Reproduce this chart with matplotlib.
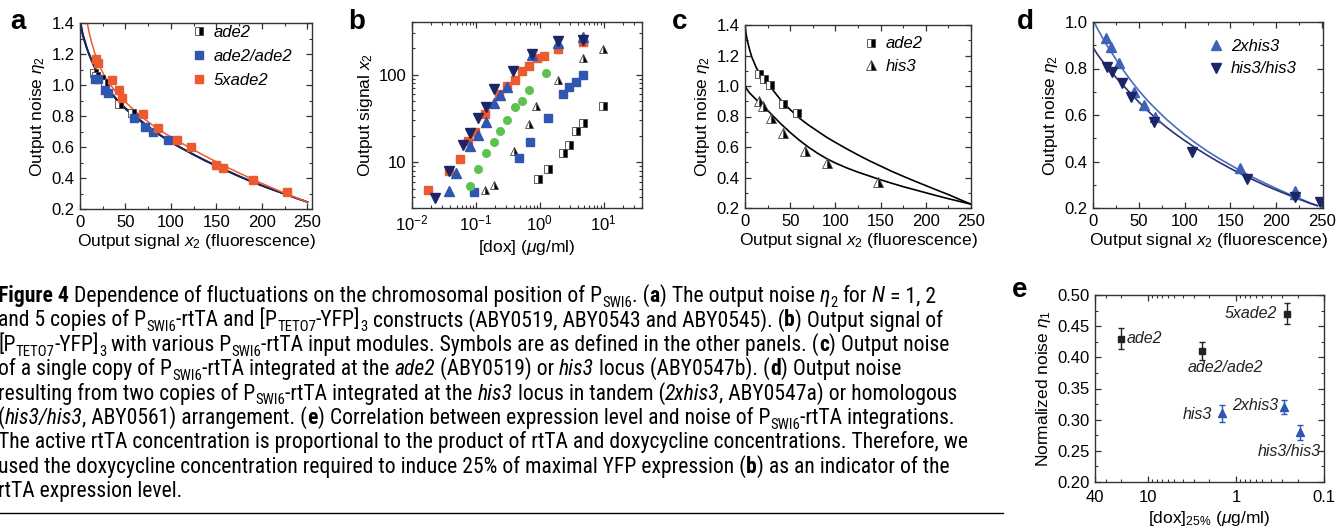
import re
import matplotlib
matplotlib.use('Agg')
import matplotlib.pyplot as plt
from matplotlib.lines import Line2D
from matplotlib.ticker import MultipleLocator, LogLocator, NullFormatter, FixedLocator, FixedFormatter

plt.rcParams['font.family'] = ['Liberation Sans', 'DejaVu Sans']
plt.rcParams['mathtext.fontset'] = 'custom'
plt.rcParams['mathtext.rm'] = 'Liberation Sans'
plt.rcParams['mathtext.it'] = 'Liberation Sans:italic'
plt.rcParams['mathtext.bf'] = 'Liberation Sans:bold'
plt.rcParams['font.size'] = 12
plt.rcParams['axes.labelsize'] = 12.5
plt.rcParams['axes.linewidth'] = 1.0
plt.rcParams['axes.edgecolor'] = '#333333'

W, H = 1337, 530
RED = '#ee5a2f'
BLUE = '#2f56b0'
NAVY = '#1c2566'
GREEN = '#5dc24f'
LBLUE = '#3d62b8'
CAP_FONT = ['Roboto Condensed', 'Open Sans Condensed', 'DejaVu Sans']

# ---- panel a: output noise vs output signal ----
a_ade2_x = [15, 18, 23, 28, 43, 57]
a_ade2_y = [1.08, 1.06, 1.04, 1.01, 0.88, 0.82]
a_ade2ade2_x = [17, 20, 27, 31, 59, 71, 80, 97]
a_ade2ade2_y = [1.04, 1.04, 0.97, 0.95, 0.79, 0.73, 0.695, 0.645]
a_5x_x = [17.7, 20.3, 35, 43, 45.7, 69, 86, 107, 122, 150, 157, 190, 227]
a_5x_y = [1.17, 1.14, 1.03, 0.97, 0.915, 0.815, 0.72, 0.645, 0.60, 0.485, 0.465, 0.385, 0.307]
a_fit_x = [0, 1, 2, 3, 5, 7.5, 10, 12.5, 15, 20, 25, 30, 40, 50, 60, 70, 80, 90, 100,
           112.5, 125, 137.5, 150, 162.5, 175, 187.5, 200, 212.5, 225, 237.5, 250]
a_fit_black = [1.42, 1.39, 1.36, 1.33, 1.29, 1.24, 1.20, 1.165, 1.13, 1.07, 1.02, 0.98, 0.91, 0.85, 0.80,
               0.755, 0.71, 0.67, 0.63, 0.59, 0.55, 0.512, 0.477, 0.443, 0.41, 0.379, 0.35, 0.323, 0.297, 0.27, 0.245]
a_fit_navy = [1.40, 1.38, 1.35, 1.32, 1.28, 1.235, 1.195, 1.16, 1.125, 1.065, 1.015, 0.975, 0.905, 0.845, 0.795,
              0.75, 0.707, 0.668, 0.63, 0.59, 0.551, 0.514, 0.479, 0.445, 0.412, 0.381, 0.352, 0.324, 0.298, 0.271, 0.245]
a_fit5_x = [8, 9, 10, 11.5, 13, 14.5, 16, 18, 20, 22.5, 25, 27.5, 30, 35, 40, 45, 50, 60, 70, 80, 90, 100,
            112.5, 125, 137.5, 150, 162.5, 175, 187.5, 200, 212.5, 225, 237.5, 250]
a_fit5_y = [1.40, 1.37, 1.34, 1.305, 1.27, 1.24, 1.21, 1.175, 1.14, 1.11, 1.08, 1.055, 1.03, 0.99, 0.95, 0.92,
            0.89, 0.835, 0.785, 0.74, 0.70, 0.665, 0.622, 0.581, 0.542, 0.504, 0.467, 0.432, 0.398, 0.365,
            0.333, 0.302, 0.273, 0.245]

# ---- panel b: dose response ----
b_5x_x = [0.018, 0.0375, 0.0557, 0.0744, 0.0958, 0.141, 0.233, 0.304, 0.411, 0.53, 0.69, 0.91, 1.16, 1.92, 4.72]
b_5x_y = [4.85, 8.0, 10.9, 17.5, 22.4, 35.7, 60, 74, 87.7, 110, 126, 155, 162, 197, 237]
b_hh_x = [0.0232, 0.0375, 0.062, 0.081, 0.108, 0.144, 0.193, 0.383, 0.77, 1.92, 4.72]
b_hh_y = [3.9, 7.9, 15.8, 21.8, 31.9, 42.2, 68, 111, 173, 240, 250]
b_2x_x = [0.0375, 0.049, 0.082, 0.108, 0.142, 0.19, 0.236, 0.304, 0.77, 1.92, 4.72]
b_2x_y = [4.7, 7.5, 15.4, 20.6, 29, 46.9, 59, 72, 170, 232, 267]
b_green_x = [0.082, 0.109, 0.142, 0.19, 0.239, 0.304, 0.405, 0.523, 0.683, 1.24]
b_green_y = [5.4, 8.45, 12.6, 17.1, 23, 30.5, 42.2, 50, 66, 104]
b_his3_x = [0.141, 0.19, 0.40, 0.69, 0.877, 1.92, 4.72, 9.95]
b_his3_y = [4.8, 5.5, 13.6, 27.5, 44, 88, 154, 199]
b_aa_x = [0.094, 0.475, 0.714, 1.33, 2.29, 2.92, 3.76, 4.78]
b_aa_y = [4.6, 11.3, 17, 31.6, 60.5, 73, 81.7, 100]
b_ade2_x = [0.955, 1.33, 2.29, 2.92, 3.76, 4.78, 9.87]
b_ade2_y = [6.4, 8.4, 12.7, 15.8, 23, 28.2, 43.4]

# ---- panel c ----
c_ade2_x = [15, 21, 28, 42, 57]
c_ade2_y = [1.08, 1.045, 1.005, 0.885, 0.82]
c_his3_x = [15, 20, 29, 42, 66, 91, 147]
c_his3_y = [0.90, 0.868, 0.79, 0.69, 0.577, 0.497, 0.368]
c_fit_x = [0, 1, 2.5, 5, 7.5, 10, 12.5, 15, 20, 25, 30, 40, 50, 60, 70, 80, 90, 100,
           112.5, 125, 137.5, 150, 162.5, 175, 187.5, 200, 212.5, 225, 237.5, 250]
c_fit_ade2 = [1.40, 1.35, 1.30, 1.24, 1.19, 1.155, 1.12, 1.095, 1.05, 1.015, 0.98, 0.905, 0.845, 0.79, 0.745,
              0.705, 0.665, 0.63, 0.588, 0.548, 0.51, 0.475, 0.44, 0.408, 0.377, 0.347, 0.317, 0.288, 0.256, 0.225]
c_fit_his3 = [1.00, 0.99, 0.975, 0.955, 0.94, 0.925, 0.91, 0.897, 0.87, 0.84, 0.81, 0.75, 0.695, 0.645, 0.60,
              0.56, 0.525, 0.495, 0.463, 0.435, 0.41, 0.385, 0.362, 0.34, 0.32, 0.30, 0.28, 0.261, 0.243, 0.225]

# ---- panel d ----
d_2x_x = [14, 20, 28, 45, 56, 68, 160, 220, 220]
d_2x_y = [0.93, 0.893, 0.822, 0.70, 0.643, 0.59, 0.372, 0.272, 0.262]
d_hh_x = [15, 21, 32, 42, 67, 108, 168, 220, 248]
d_hh_y = [0.805, 0.783, 0.737, 0.676, 0.571, 0.44, 0.324, 0.246, 0.224]
d_fit_x = [0, 2.5, 5, 10, 15, 20, 25, 30, 40, 50, 60, 70, 80, 90, 100, 112.5, 125, 137.5, 150,
           162.5, 175, 187.5, 200, 212.5, 225, 237.5, 245]
d_fit_2x = [1.01, 0.99, 0.97, 0.935, 0.90, 0.87, 0.84, 0.81, 0.755, 0.705, 0.66, 0.62, 0.582, 0.548, 0.515,
            0.478, 0.444, 0.413, 0.385, 0.357, 0.331, 0.307, 0.284, 0.262, 0.241, 0.221, 0.21]
d_fit_hh = [0.89, 0.875, 0.86, 0.833, 0.808, 0.785, 0.762, 0.74, 0.697, 0.656, 0.617, 0.581, 0.548, 0.518, 0.49,
            0.457, 0.426, 0.397, 0.37, 0.345, 0.321, 0.298, 0.277, 0.257, 0.238, 0.219, 0.21]

# ---- panel e ----
e_names = ['ade2', 'ade2/ade2', '5xade2', 'his3', '2xhis3', 'his3/his3']
e_dox = [20, 2.46, 0.266, 1.46, 0.286, 0.187]
e_noise = [0.43, 0.41, 0.47, 0.31, 0.32, 0.28]
e_err = [0.017, 0.015, 0.017, 0.013, 0.011, 0.012]

caption_lines = [
    "**Figure 4** Dependence of fluctuations on the chromosomal position of P_{SWI6}. (**a**) The output noise *η*_{2} for *N* = 1, 2",
    "and 5 copies of P_{SWI6}-rtTA and [P_{TETO7}-YFP]_{3} constructs (ABY0519, ABY0543 and ABY0545). (**b**) Output signal of",
    "[P_{TETO7}-YFP]_{3} with various P_{SWI6}-rtTA input modules. Symbols are as defined in the other panels. (**c**) Output noise",
    "of a single copy of P_{SWI6}-rtTA integrated at the *ade2* (ABY0519) or *his3* locus (ABY0547b). (**d**) Output noise",
    "resulting from two copies of P_{SWI6}-rtTA integrated at the *his3* locus in tandem (*2xhis3*, ABY0547a) or homologous",
    "(*his3/his3*, ABY0561) arrangement. (**e**) Correlation between expression level and noise of P_{SWI6}-rtTA integrations.",
    "The active rtTA concentration is proportional to the product of rtTA and doxycycline concentrations. Therefore, we",
    "used the doxycycline concentration required to induce 25% of maximal YFP expression (**b**) as an indicator of the",
    "rtTA expression level.",
]

fig = plt.figure(figsize=(W / 100, H / 100), dpi=100)


def add_ax(l, t, r, b):
    return fig.add_axes([l / W, 1 - b / H, (r - l) / W, (b - t) / H])


def style(ax):
    ax.tick_params(which='both', direction='in', top=True, right=True, colors='#333333', labelcolor='black')
    ax.tick_params(which='major', length=4.5, width=0.9, pad=4)
    ax.tick_params(which='minor', length=2.5, width=0.8)


half_sq = dict(marker='s', fillstyle='right', markerfacecolor='black', markerfacecoloralt='white',
               markeredgecolor='#444444', markeredgewidth=0.6, linestyle='none')
half_tri = dict(marker='^', fillstyle='right', markerfacecolor='black', markerfacecoloralt='white',
                markeredgecolor='#444444', markeredgewidth=0.6, linestyle='none')
leg_kw = dict(loc='upper left', frameon=False, handlelength=0.8, handletextpad=0.5,
              prop={'style': 'italic', 'size': 12})


def noise_axes(ax, xmax, ymax):
    ax.set_xlim(0, xmax)
    ax.set_ylim(0.2, ymax)
    ax.xaxis.set_major_locator(MultipleLocator(50))
    ax.xaxis.set_minor_locator(MultipleLocator(25))
    ax.yaxis.set_major_locator(MultipleLocator(0.2))
    ax.yaxis.set_minor_locator(MultipleLocator(0.1))
    ax.yaxis.set_major_formatter(plt.FormatStrFormatter('%.1f'))
    ax.set_xlabel('Output signal $x_2$ (fluorescence)', labelpad=2)
    ax.set_ylabel(r'Output noise $\eta_2$', labelpad=3)
    style(ax)


# panel a
ax = add_ax(80, 23, 312, 209)
ax.plot(a_fit_x, a_fit_black, color='black', lw=1.3)
ax.plot(a_fit_x, a_fit_navy, color=NAVY, lw=1.3)
ax.plot(a_fit5_x, a_fit5_y, color=RED, lw=1.1)
ax.plot(a_ade2_x, a_ade2_y, ms=6, label='ade2', **half_sq)
ax.plot(a_ade2ade2_x, a_ade2ade2_y, 's', color=BLUE, ms=6, mec=BLUE, label='ade2/ade2')
ax.plot(a_5x_x, a_5x_y, 's', color=RED, ms=6, mec=RED, label='5xade2')
noise_axes(ax, 255, 1.4)
ax.legend(bbox_to_anchor=(0.42, 1.07), labelspacing=0.55, **leg_kw)

# panel b
ax = add_ax(412, 22, 642, 208)
ms_b = 5.5
ax.plot(b_ade2_x, b_ade2_y, ms=ms_b, **half_sq)
ax.plot(b_his3_x, b_his3_y, ms=ms_b + 0.5, **half_tri)
ax.plot(b_aa_x, b_aa_y, 's', color=BLUE, mec=BLUE, ms=ms_b)
ax.plot(b_green_x, b_green_y, 'o', color=GREEN, mec=GREEN, ms=ms_b)
ax.plot(b_5x_x, b_5x_y, 's', color=RED, mec=RED, ms=ms_b)
ax.plot(b_2x_x, b_2x_y, '^', color=BLUE, mec=BLUE, ms=ms_b + 1)
ax.plot(b_hh_x, b_hh_y, 'v', color=NAVY, mec=NAVY, ms=ms_b + 1)
ax.set_xscale('log')
ax.set_yscale('log')
ax.set_xlim(0.01, 40)
ax.set_ylim(3, 400)
ax.xaxis.set_major_locator(LogLocator(base=10, numticks=10))
ax.xaxis.set_minor_locator(LogLocator(base=10, subs=range(2, 10), numticks=20))
ax.xaxis.set_minor_formatter(NullFormatter())
ax.yaxis.set_major_locator(FixedLocator([10, 100]))
ax.yaxis.set_major_formatter(FixedFormatter(['10', '100']))
ax.yaxis.set_minor_locator(LogLocator(base=10, subs=range(2, 10), numticks=20))
ax.yaxis.set_minor_formatter(NullFormatter())
ax.set_xlabel(r'[dox] ($\mu$g/ml)', labelpad=3)
ax.set_ylabel('Output signal $x_2$', labelpad=3)
style(ax)

# panel c
ax = add_ax(745, 25, 971, 208)
ax.plot(c_fit_x, c_fit_ade2, color='black', lw=1.2)
ax.plot(c_fit_x, c_fit_his3, color='black', lw=1.2)
ax.plot(c_ade2_x, c_ade2_y, ms=6, label='ade2', **half_sq)
ax.plot(c_his3_x, c_his3_y, ms=7, label='his3', **half_tri)
noise_axes(ax, 250, 1.4)
ax.legend(bbox_to_anchor=(0.46, 1.02), labelspacing=0.45, **leg_kw)

# panel d
ax = add_ax(1093, 22, 1323, 208)
ax.plot(d_fit_x, d_fit_2x, color='#4a6cc0', lw=1.2)
ax.plot(d_fit_x, d_fit_hh, color='#2a3270', lw=1.2)
ax.plot(d_2x_x, d_2x_y, '^', color=LBLUE, mec=LBLUE, ms=7, label='2xhis3')
ax.plot(d_hh_x, d_hh_y, 'v', color=NAVY, mec=NAVY, ms=7, label='his3/his3')
noise_axes(ax, 251, 1.0)
ax.legend(bbox_to_anchor=(0.44, 0.99), labelspacing=0.45, **leg_kw)

# panel e
ax = add_ax(1095, 295, 1324, 482)
for name, xv, yv, ev in zip(e_names, e_dox, e_noise, e_err):
    blue = 'his3' in name
    col = BLUE if blue else '#222222'
    ax.errorbar([xv], [yv], yerr=[ev], fmt='^' if blue else 's', color=col, ms=6 if blue else 5,
                capsize=2, elinewidth=1, capthick=1)
offsets = {'ade2': (4, 0, 'left', 'center'), 'ade2/ade2': (17, -12, 'center', 'center'),
           '5xade2': (-7, 0, 'right', 'center'), 'his3': (-7, -1, 'right', 'center'),
           '2xhis3': (-4, 1, 'right', 'center'), 'his3/his3': (-8, -14, 'center', 'center')}
for name, xv, yv in zip(e_names, e_dox, e_noise):
    dx, dy, ha, va = offsets[name]
    ax.annotate(name, (xv, yv), xytext=(dx, dy), textcoords='offset points', ha=ha, va=va,
                fontstyle='italic', fontsize=11.5, color='#222222')
ax.set_xscale('log')
ax.set_xlim(40, 0.1)
ax.set_ylim(0.2, 0.5)
ax.xaxis.set_major_locator(FixedLocator([40, 10, 1, 0.1]))
ax.xaxis.set_major_formatter(FixedFormatter(['40', '10', '1', '0.1']))
ax.xaxis.set_minor_locator(LogLocator(base=10, subs=range(2, 10), numticks=20))
ax.xaxis.set_minor_formatter(NullFormatter())
ax.yaxis.set_major_locator(MultipleLocator(0.05))
ax.yaxis.set_minor_locator(MultipleLocator(0.025))
ax.yaxis.set_major_formatter(plt.FormatStrFormatter('%.2f'))
ax.set_xlabel(r'[dox]$_{25\%}$ ($\mu$g/ml)', labelpad=3)
ax.set_ylabel(r'Normalized noise $\eta_1$', labelpad=3)
style(ax)
ax.tick_params(axis='x', which='major', pad=6)

# panel letters
for letter, px, py in [('a', 18, 22), ('b', 357, 22), ('c', 680, 22), ('d', 1025, 22), ('e', 1020, 290)]:
    fig.text(px / W, 1 - py / H, letter, fontsize=20, fontweight='bold', ha='center', va='center')

# caption
renderer = fig.canvas.get_renderer()
cap_kw = dict(family=CAP_FONT, stretch='condensed')


def text_width(s, **kw):
    t = fig.text(0, 0, s, **kw)
    w = t.get_window_extent(renderer).width
    t.remove()
    return w


def draw_line(x_px, base_px, line, size):
    parts = re.split(r'(\*\*.+?\*\*|\*.+?\*|_\{.+?\})', line)
    space = text_width('a a', fontsize=size, **cap_kw) - text_width('aa', fontsize=size, **cap_kw)
    x = x_px
    for p in parts:
        if not p:
            continue
        kw = dict(fontsize=size, **cap_kw)
        drop = 0
        if p.startswith('**'):
            txt = p[2:-2]
            kw['weight'] = 'bold'
        elif p.startswith('*'):
            txt = p[1:-1]
            kw['style'] = 'italic'
        elif p.startswith('_{'):
            txt = p[2:-1]
            kw['fontsize'] = size * 0.68
            drop = size * 0.22 * 100 / 72
        else:
            txt = p
        lead = len(txt) - len(txt.lstrip(' '))
        trail = len(txt) - len(txt.rstrip(' '))
        x += lead * space
        core = txt.strip(' ')
        if core:
            t = fig.text(x / W, 1 - (base_px + drop) / H, core, ha='left', va='baseline', **kw)
            x = t.get_window_extent(renderer).x1
        x += trail * space
    return x


# size the caption so that the second line ends where it does in the print
probe = fig.text(0, 0, re.sub(r'[*]|_\{|\}', '', caption_lines[1]), fontsize=14, **cap_kw)
cap_size = 14 * 985 / probe.get_window_extent(renderer).width
probe.remove()
for i, line in enumerate(caption_lines):
    draw_line(-2, 302 + 24.4 * i, line, cap_size)

fig.add_artist(Line2D([0, 1003 / W], [1 - 513 / H, 1 - 513 / H], color='black', lw=1.0))

fig.savefig('out.png', dpi=100)
